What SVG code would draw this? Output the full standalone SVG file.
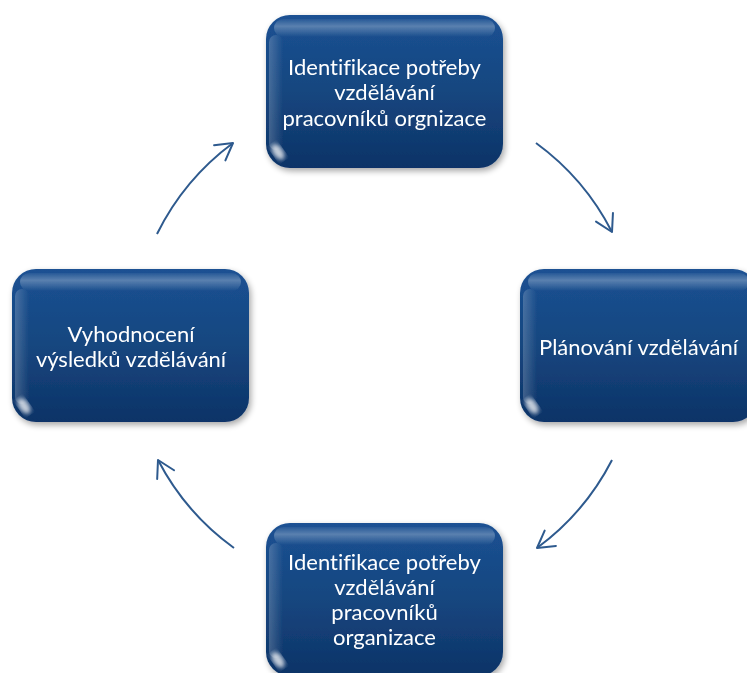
<svg xmlns="http://www.w3.org/2000/svg" width="747" height="673" viewBox="0 0 747 673">
<defs>
<linearGradient id="fillG" x1="0" y1="0" x2="0" y2="1">
<stop offset="0" stop-color="#1b5193"/>
<stop offset="0.5" stop-color="#16467f"/>
<stop offset="1" stop-color="#0d3367"/>
</linearGradient>
<linearGradient id="topHi" x1="0" y1="0" x2="0" y2="1">
<stop offset="0" stop-color="#ffffff" stop-opacity="0.05"/>
<stop offset="0.4" stop-color="#ffffff" stop-opacity="0.28"/>
<stop offset="1" stop-color="#ffffff" stop-opacity="0"/>
</linearGradient>
<linearGradient id="leftHi" x1="0" y1="0" x2="1" y2="0">
<stop offset="0" stop-color="#ffffff" stop-opacity="0.2"/>
<stop offset="1" stop-color="#ffffff" stop-opacity="0"/>
</linearGradient>
<filter id="shadow" x="-10%" y="-10%" width="125%" height="130%">
<feGaussianBlur in="SourceAlpha" stdDeviation="3"/>
<feOffset dx="2" dy="3" result="b"/>
<feComponentTransfer><feFuncA type="linear" slope="0.35"/></feComponentTransfer>
<feMerge><feMergeNode/><feMergeNode in="SourceGraphic"/></feMerge>
</filter>
<filter id="blur2"><feGaussianBlur stdDeviation="2"/></filter>
<marker id="chev" viewBox="-20 -12 24 24" refX="0" refY="0" markerWidth="24" markerHeight="24" markerUnits="userSpaceOnUse" orient="auto">
<path d="M-16.5,-9.5 L0,0 L-16.5,9.5" fill="none" stroke="#2e5a8e" stroke-width="2" stroke-linecap="round" stroke-linejoin="round"/>
</marker>
<g id="boxShape">
<rect x="0" y="0" width="237" height="153" rx="24" fill="url(#fillG)"/>
<rect x="8" y="4" width="221" height="18" rx="9" fill="url(#topHi)"/>
<rect x="3" y="20" width="14" height="115" rx="7" fill="url(#leftHi)"/>
<ellipse cx="12" cy="137" rx="5" ry="9" transform="rotate(-35 12 137)" fill="#ffffff" opacity="0.75" filter="url(#blur2)"/>
</g>
</defs>
<style>
.lbl{font-family:"Lato","Open Sans","Liberation Sans",sans-serif;font-size:22px;fill:#ffffff;text-anchor:middle;font-variant-ligatures:none}
.conn{fill:none;stroke:#2e5a8e;stroke-width:2;marker-end:url(#chev)}
</style>
<rect width="747" height="673" fill="#ffffff"/>
<g id="connectors">
<path class="conn" d="M536,143 A252,252 0 0 1 612,232"/>
<path class="conn" d="M612,460 A252,252 0 0 1 537,548"/>
<path class="conn" d="M234,548 A252,252 0 0 1 158,460"/>
<path class="conn" d="M157,234 A252,252 0 0 1 233,143"/>
</g>
<g id="node-top" filter="url(#shadow)">
<use href="#boxShape" x="266" y="15"/>
<text class="lbl" x="384.5" y="75">Identifikace potřeby</text>
<text class="lbl" x="384.5" y="100">vzdělávání</text>
<text class="lbl" x="384.5" y="126">pracovníků orgnizace</text>
</g>
<g id="node-right" filter="url(#shadow)">
<use href="#boxShape" x="520" y="269"/>
<text class="lbl" x="638.5" y="355">Plánování vzdělávání</text>
</g>
<g id="node-left" filter="url(#shadow)">
<use href="#boxShape" x="12" y="269"/>
<text class="lbl" x="131" y="342">Vyhodnocení</text>
<text class="lbl" x="131" y="367">výsledků vzdělávání</text>
</g>
<g id="node-bottom" filter="url(#shadow)">
<use href="#boxShape" x="266" y="523"/>
<text class="lbl" x="384.5" y="570">Identifikace potřeby</text>
<text class="lbl" x="384.5" y="595">vzdělávání</text>
<text class="lbl" x="384.5" y="620">pracovníků</text>
<text class="lbl" x="384.5" y="645">organizace</text>
</g>
</svg>
